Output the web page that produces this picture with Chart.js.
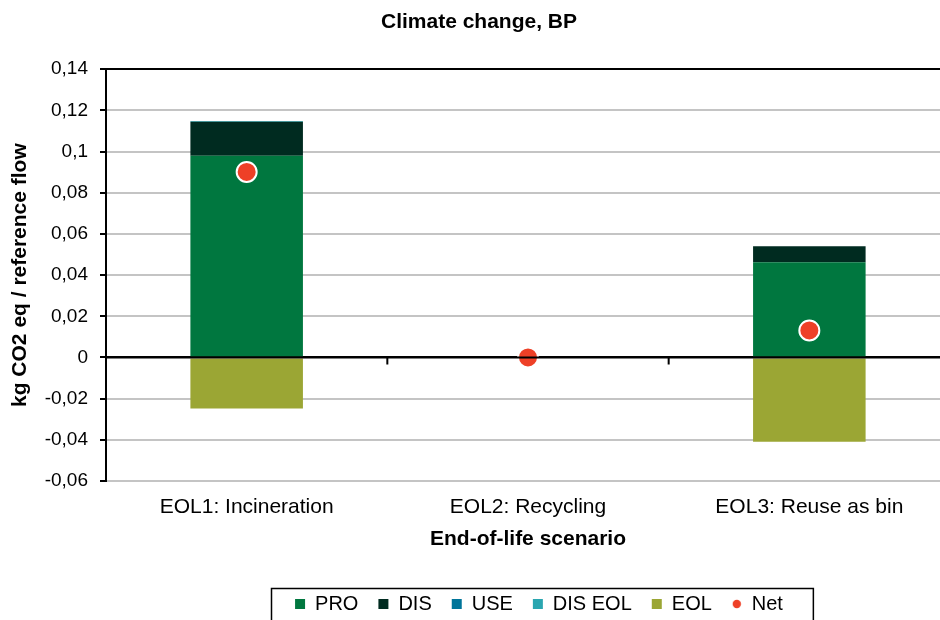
<!DOCTYPE html>
<html>
<head>
<meta charset="utf-8">
<script src="https://cdn.jsdelivr.net/npm/chart.js@4"></script>
<style>
  html, body { margin:0; padding:0; background:#fff; overflow:hidden; }
  #wrap { width:962px; height:620px; }
</style>
</head>
<body>
<div id="wrap"><canvas id="chart"></canvas></div>
<script>
const categories = ["EOL1: Incineration", "EOL2: Recycling", "EOL3: Reuse as bin"];
const pro    = [0.098, 0, 0.0462];
const dis    = [0.0165, 0, 0.0078];
const use    = [0, 0, 0];
const disEol = [0.0004, 0, 0];
const eol    = [-0.0248, 0, -0.0409];
const net    = [0.0901, 0, 0.0131];

const yTicks = { min: -0.06, max: 0.14, step: 0.02 };

const FONT = "'Liberation Sans', Arial, sans-serif";

// small red dot for the legend
const netDot = document.createElement('canvas');
netDot.width = 10; netDot.height = 10;
(function(){
  const c = netDot.getContext('2d');
  c.fillStyle = '#EE4027';
  c.beginPath(); c.arc(5, 5, 4.2, 0, Math.PI*2); c.fill();
})();

function bar(label, data, color){
  return { type:'bar', label, data, backgroundColor:color, borderWidth:0,
           barPercentage:0.4, categoryPercentage:1, order:2 };
}

/* ticks on zero line, legend shift + frame */
const extras = {
  id:'extras',
  afterLayout(chart){
    const lg = chart.legend;
    if (!lg) return;
    lg.left += 60; lg.right += 60;
    lg.top += 4; lg.bottom += 4;
  },
  afterDatasetsDraw(chart){
    const {ctx, scales:{x, y}} = chart;
    const y0 = y.getPixelForValue(0);
    ctx.save();
    ctx.strokeStyle = '#000';
    ctx.lineWidth = 2;
    ctx.beginPath();
    ctx.moveTo(x.left, y0); ctx.lineTo(x.right, y0);
    for (let i = 0; i < categories.length - 1; i++) {
      const bx = (x.getPixelForValue(i) + x.getPixelForValue(i+1)) / 2;
      ctx.moveTo(bx, y0); ctx.lineTo(bx, y0 + 7);
    }
    ctx.stroke();
    ctx.restore();
  },
  afterDraw(chart){
    const lg = chart.legend;
    if (!lg || !lg.legendHitBoxes.length) return;
    const hb = lg.legendHitBoxes;
    const last = hb[hb.length-1];
    const l = hb[0].left - 24, r = last.left + last.width + 30;
    const cy = hb[0].top + hb[0].height / 2;
    const ctx = chart.ctx;
    ctx.save();
    ctx.strokeStyle = '#000';
    ctx.lineWidth = 1.5;
    ctx.strokeRect(Math.round(l)+0.5, Math.round(cy - 16)+0.5, r - l, 60);
    ctx.restore();
  }
};

new Chart(document.getElementById('chart'), {
  data: {
    labels: categories,
    datasets: [
      bar('PRO', pro, '#00773F'),
      bar('DIS', dis, '#002B20'),
      bar('USE', use, '#00759A'),
      bar('DIS EOL', disEol, '#2AA6B0'),
      bar('EOL', eol, '#9BA634'),
      { type:'line', label:'Net', data:net, showLine:false, order:0,
        pointRadius:10, pointHoverRadius:10, pointBorderWidth:2,
        pointBackgroundColor:'#EE4027', pointBorderColor:'#fff',
        backgroundColor:'#EE4027', borderColor:'#EE4027' }
    ]
  },
  options: {
    responsive:true,
    maintainAspectRatio:false,
    animation:false,
    layout:{ padding:{ left:0, right:4, top:0, bottom:0 } },
    plugins:{
      title:{ display:true, text:'Climate change, BP', color:'#000',
              font:{ family:FONT, size:21, weight:'bold' }, padding:{ top:10, bottom:34 } },
      legend:{
        position:'bottom',
        labels:{
          color:'#000', font:{ family:FONT, size:20 },
          usePointStyle:true, boxWidth:10, boxHeight:10, padding:20,
          generateLabels(chart){
            return chart.data.datasets.map((ds, i) => ({
              text: ds.label,
              fillStyle: ds.type === 'line' ? ds.pointBackgroundColor : ds.backgroundColor,
              strokeStyle: 'rgba(0,0,0,0)',
              lineWidth: 0,
              pointStyle: ds.type === 'line' ? netDot : 'rect',
              hidden: !chart.isDatasetVisible(i),
              datasetIndex: i
            }));
          }
        }
      },
      tooltip:{ enabled:false }
    },
    scales:{
      x:{
        stacked:true,
        grid:{ display:false, drawTicks:false },
        border:{ display:false },
        ticks:{ color:'#000', font:{ family:FONT, size:21 }, padding:14, maxRotation:0 },
        title:{ display:true, text:'End-of-life scenario', color:'#000',
                font:{ family:FONT, size:21, weight:'bold' }, padding:{ top:4, bottom:18 } },
        afterFit(s){ s.height = 89; }
      },
      y:{
        stacked:true,
        min:yTicks.min, max:yTicks.max,
        border:{ display:true, color:'#000', width:2 },
        grid:{
          color:c => (Math.abs(c.tick.value) < 1e-9 || Math.abs(c.tick.value - yTicks.max) < 1e-9) ? '#000' : '#c4c4c4',
          lineWidth:2, tickLength:6, tickColor:'#000', tickWidth:2
        },
        ticks:{
          stepSize:yTicks.step, color:'#000', font:{ family:FONT, size:19 }, padding:12,
          callback:v => String(Number(v.toFixed(2))).replace('.', ',')
        },
        title:{ display:true, text:'kg CO2 eq / reference flow', color:'#000',
                font:{ family:FONT, size:21, weight:'bold' }, padding:{ top:8, bottom:0 } },
        afterFit(s){ s.width = 106; }
      }
    }
  },
  plugins:[extras]
});
</script>
</body>
</html>
